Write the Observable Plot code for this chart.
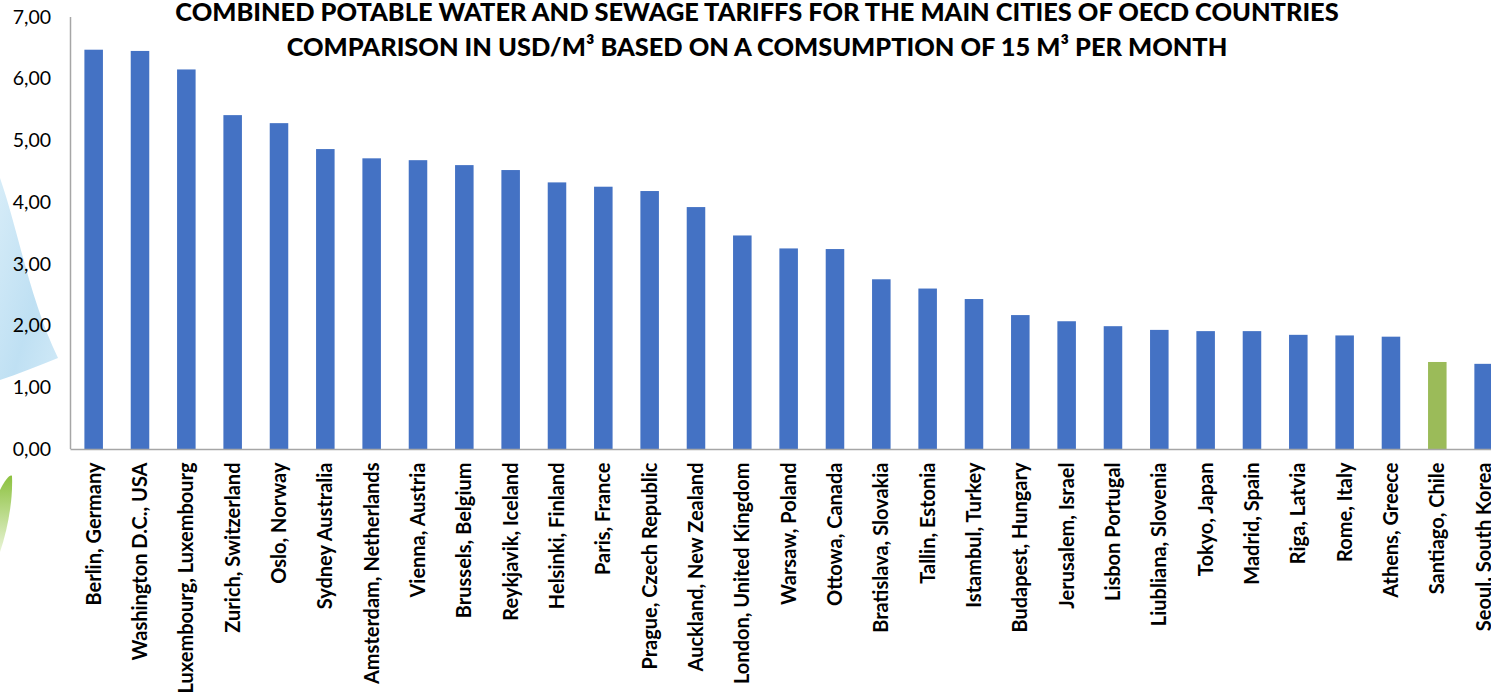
<!DOCTYPE html>
<html>
<head>
<meta charset="utf-8">
<script src="https://cdn.jsdelivr.net/npm/d3@7"></script>
<script src="https://cdn.jsdelivr.net/npm/@observablehq/plot@0.6"></script>
<style>
  html, body { margin: 0; padding: 0; background: #fff; overflow: hidden; }
  #wrap { position: relative; width: 1491px; height: 693px; overflow: hidden; }
  #deco { position: absolute; left: 0; top: 0; }
  #chart { position: absolute; left: 0; top: 0; }
  #title { position: absolute; left: 0; top: -6px; width: 1514px; text-align: center;
           font-family: Lato, "Open Sans", sans-serif; font-weight: 900; font-size: 25.4px;
           line-height: 35px; color: #000; }
</style>
</head>
<body>
<div id="wrap">
  <svg id="deco" width="120" height="693">
    <defs>
      <linearGradient id="bg1" x1="0" y1="0" x2="1" y2="1">
        <stop offset="0" stop-color="#d6ecf8"/>
        <stop offset="0.6" stop-color="#bfe0f3"/>
        <stop offset="1" stop-color="#d0e9f7"/>
      </linearGradient>
      <linearGradient id="gg1" x1="0" y1="0" x2="0" y2="1">
        <stop offset="0" stop-color="#8cc13f"/>
        <stop offset="1" stop-color="#e9f4d6"/>
      </linearGradient>
    </defs>
    <path d="M0,178 C18,230 30,300 58,358 C38,366 18,374 0,380 Z" fill="url(#bg1)"/>
    <path d="M0,490 C5,480 10,474 12,476 C13,500 8,528 0,552 Z" fill="url(#gg1)"/>
  </svg>
  <div id="chart"></div>
  <div id="title">COMBINED POTABLE WATER AND SEWAGE TARIFFS FOR THE MAIN CITIES OF OECD COUNTRIES<br>COMPARISON IN USD/M³ BASED ON A COMSUMPTION OF 15 M³ PER MONTH</div>
</div>
<script>
const cities = [
  "Berlin, Germany", "Washington D.C., USA", "Luxembourg, Luxembourg", "Zurich, Switzerland",
  "Oslo, Norway", "Sydney Australia", "Amsterdam, Netherlands", "Vienna, Austria",
  "Brussels, Belgium", "Reykjavik, Iceland", "Helsinki, Finland", "Paris, France",
  "Prague, Czech Republic", "Auckland, New Zealand", "London, United Kingdom", "Warsaw, Poland",
  "Ottowa, Canada", "Bratislava, Slovakia", "Tallin, Estonia", "Istambul, Turkey",
  "Budapest, Hungary", "Jerusalem, Israel", "Lisbon Portugal", "Liubliana, Slovenia",
  "Tokyo, Japan", "Madrid, Spain", "Riga, Latvia", "Rome, Italy",
  "Athens, Greece", "Santiago, Chile", "Seoul, South Korea"
];
const tariffs = [
  6.47, 6.45, 6.15, 5.41,
  5.28, 4.86, 4.71, 4.68,
  4.60, 4.52, 4.32, 4.25,
  4.18, 3.92, 3.46, 3.25,
  3.24, 2.75, 2.60, 2.43,
  2.17, 2.07, 1.99, 1.93,
  1.91, 1.91, 1.85, 1.84,
  1.82, 1.41, 1.38
];
const highlight = ["Santiago, Chile"];
const yTicks = [0, 1, 2, 3, 4, 5, 6, 7];

const data = cities.map((city, i) => ({city, value: tariffs[i], hl: highlight.includes(city)}));

const axisLine = (index, scales, values, dimensions) => {
  const {marginLeft} = dimensions;
  const g = d3.create("svg:g");
  g.append("line")
    .attr("x1", marginLeft).attr("x2", marginLeft)
    .attr("y1", scales.y(7)).attr("y2", scales.y(0))
    .attr("stroke", "#a6a6a6").attr("stroke-width", 1.5);
  return g.node();
};

const chart = Plot.plot({
  width: 1491,
  height: 693,
  marginLeft: 70.5,
  marginRight: -15.8,
  marginTop: 17,
  marginBottom: 244,
  style: {fontFamily: "Lato, 'Open Sans', sans-serif", background: "transparent", overflow: "hidden"},
  x: {type: "band", domain: cities, paddingInner: 0.6, paddingOuter: 0.3, round: false, label: null},
  y: {domain: [0, 7], label: null},
  marks: [
    Plot.barY(data, {x: "city", y: "value", fill: d => d.hl ? "#9BBB59" : "#4472C4"}),
    Plot.ruleY([0], {stroke: "#a6a6a6", strokeWidth: 1.5}),
    axisLine,
    Plot.axisY({ticks: yTicks, tickSize: 0, tickPadding: 20, fontSize: 19.5,
      tickFormat: d => d.toFixed(2).replace(".", ","), fill: "#000", label: null}),
    Plot.axisX({tickSize: 0, tickPadding: 13, tickRotate: -90, fontSize: 20, fontWeight: "bold",
      fill: "#000", label: null})
  ]
});
document.getElementById("chart").appendChild(chart);
</script>
</body>
</html>
